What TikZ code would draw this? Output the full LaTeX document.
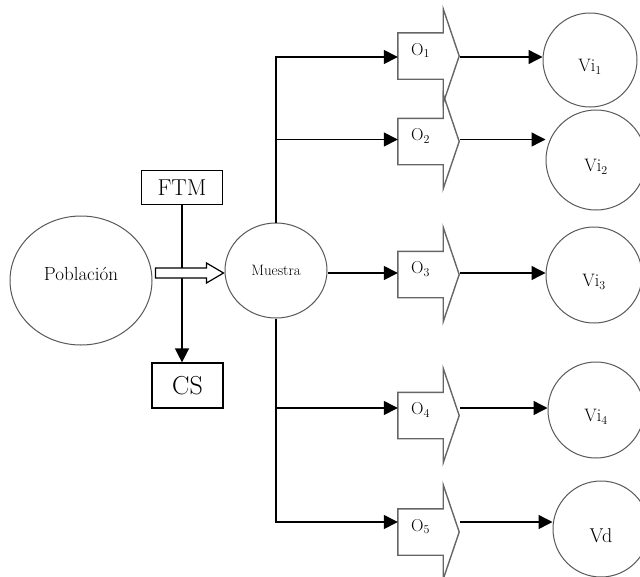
\documentclass[tikz,border=0pt]{standalone}
\usetikzlibrary{arrows.meta,shapes.geometric,calc}
\begin{document}
\begin{tikzpicture}[x=1pt,y=-1pt,
 conn/.style={line width=1.4pt, -{Triangle[length=14pt,width=14pt]}},
 ell/.style={ellipse, draw=black!65, line width=1pt, inner sep=0},
 vcirc/.style={circle, draw=black!65, line width=1pt, inner sep=0},
 boxn/.style={rectangle, draw=black, line width=1.2pt, inner sep=0},
 orect/.style={rectangle, draw=none, minimum width=45pt, minimum height=46pt, inner sep=0},
 oshape/.style={draw=black!60, line width=1.4pt, line join=miter},
 hollow/.style={draw=black, line width=1.2pt, fill=white, line join=miter},
 olab/.style={font=\fontsize{17}{17}\selectfont, yshift=5.5pt},
 vlab/.style={font=\fontsize{18}{18}\selectfont, yshift=-7pt},
]
\clip (0,0) rectangle (640,576);
\fill[white] (0,0) rectangle (640,576);

% left part
\node[ell, minimum width=142pt, minimum height=129pt,
  label={[name=pobt, font=\fontsize{19}{19}\selectfont, yshift=6.5pt]center:Población}] (pob) at (81,280.5) {};
\node[ell, minimum width=102pt, minimum height=95pt, font=\fontsize{15}{15}\selectfont] (mue) at (276,270.5) {Muestra};
\node[boxn, minimum width=81pt, minimum height=34pt, font=\fontsize{23}{23}\selectfont] (ftm) at (182,187.5) {FTM};
\node[boxn, minimum width=71pt, minimum height=45pt, font=\fontsize{26}{26}\selectfont] (cs) at (187.5,385.5) {CS};

% O shapes
\foreach \n/\y in {1/56,2/141.5,3/274.5,4/415.5,5/532}{
  \node[orect, label={[name=lO\n, olab]center:$\mathrm{O}_{\n}$}] (O\n) at (420.5,\y) {};
}
\foreach \n in {1,...,5}{
  \draw[oshape] ([yshift=24pt]O\n.north east) -- (O\n.north east) -- (O\n.north west)
    -- (O\n.south west) -- (O\n.south east) -- ([yshift=-24pt]O\n.south east)
    -- ([xshift=16pt]O\n.east) -- cycle;
}

% V circles
\node[vcirc, minimum size=94pt, label={[name=lV1, vlab]center:Vi$_{1}$}] (V1) at (590,60) {};
\node[vcirc, minimum size=100pt, label={[name=lV2, vlab]center:Vi$_{2}$}] (V2) at (596,160) {};
\node[vcirc, minimum size=96pt, label={[name=lV3, vlab]center:Vi$_{3}$}] (V3) at (594,275) {};
\node[vcirc, minimum size=96pt, label={[name=lV4, vlab]center:Vi$_{4}$}] (V4) at (596,410) {};
\node[vcirc, minimum size=96pt, label={[name=lV5, vlab, font=\fontsize{20}{20}\selectfont]center:Vd}] (V5) at (601,529) {};

% FTM -> CS
\draw[conn] (ftm.south) -- (ftm.south |- cs.north);

% hollow arrow Poblacion -> Muestra
\path (pob.east) ++(3pt,7.5pt) coordinate (hs);
\path (mue.west) ++(-1pt,-2.5pt) coordinate (he);
\draw[hollow] ([yshift=5pt]hs) -- ([yshift=5pt,xshift=-17pt]he) -- ([yshift=10pt,xshift=-17pt]he)
  -- (he) -- ([yshift=-10pt,xshift=-17pt]he) -- ([yshift=-5pt,xshift=-17pt]he)
  -- ([yshift=-5pt]hs) -- cycle;

% branches from Muestra
\draw[conn] (mue.north) |- ([yshift=-1pt]O1.west);
\draw[conn] (mue.north) |- ([yshift=2pt]O2.west);
\draw[conn] ([yshift=-2.5pt]mue.east) -- ([yshift=-2.5pt]mue.east -| O3.west);
\draw[conn] (mue.south) |- ([yshift=7.5pt]O4.west);
\draw[conn] (mue.south) |- ([yshift=10pt]O5.west);

% O -> V
\foreach \n/\s in {1/-1,2/2,3/1.5,4/7.5,5/10}{
  \draw[conn] ([xshift=17pt,yshift=\s pt]O\n.east) -- ([yshift=\s pt]O\n.east -| V\n.west);
}
\end{tikzpicture}
\end{document}
